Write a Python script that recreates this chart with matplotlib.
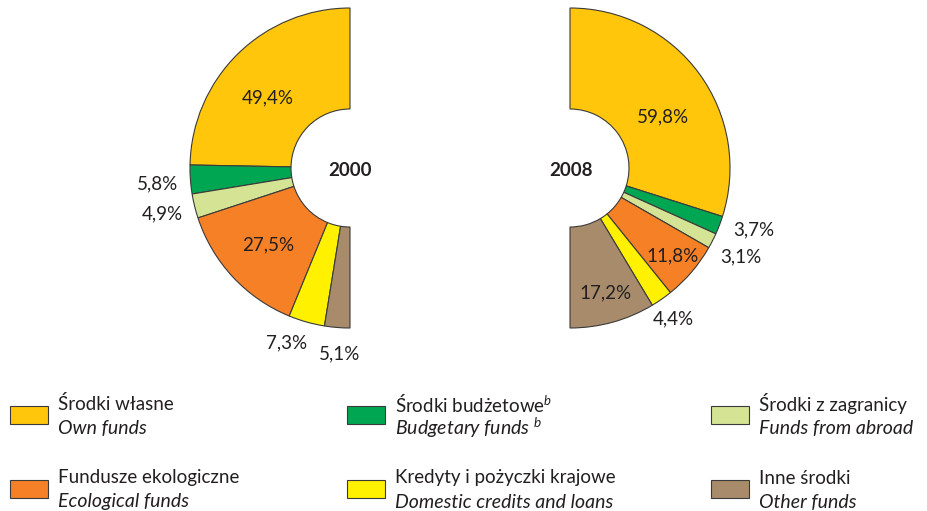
import numpy as np
import matplotlib
matplotlib.use("Agg")
import matplotlib.pyplot as plt
from matplotlib.patches import Rectangle

plt.rcParams["font.family"] = ["Lato", "DejaVu Sans"]
plt.rcParams["mathtext.fontset"] = "custom"
plt.rcParams["mathtext.rm"] = "Lato"
plt.rcParams["mathtext.it"] = "Lato:italic"

categories_pl = ["Środki własne", "Środki budżetowe$^{b}$", "Środki z zagranicy",
                 "Fundusze ekologiczne", "Kredyty i pożyczki krajowe", "Inne środki"]
categories_en = ["Own funds", "Budgetary funds $^{b}$", "Funds from abroad",
                 "Ecological funds", "Domestic credits and loans", "Other funds"]
colors = ["#FFC60B", "#00A651", "#D5E394", "#F58025", "#FFF100", "#A78B6B"]

years = ["2000", "2008"]
shares_2000 = [49.4, 5.8, 4.9, 27.5, 7.3, 5.1]
shares_2008 = [59.8, 3.7, 3.1, 11.8, 4.4, 17.2]

W, H = 928, 511
txt = "#231F20"
edge = "#3A3A3A"

fig = plt.figure(figsize=(W / 100, H / 100), dpi=100)
ax = fig.add_axes([0, 0, 1, 1])

R, R_IN = 160, 59


def Y(y):
    return H - y


def half_donut(values, cx, cy, ccw, label_r, nudge):
    vals = list(values) + [sum(values)]
    wedges, _ = ax.pie(vals, colors=colors + ["none"], startangle=90,
                       counterclock=ccw, radius=R, center=(cx, Y(cy)),
                       wedgeprops=dict(width=R - R_IN, edgecolor=edge, linewidth=0.8))
    wedges[-1].set_edgecolor("none")
    sign = 1 if ccw else -1
    cum = 0
    for i, v in enumerate(values):
        mid = np.deg2rad(90 + sign * (cum + v / 2) * 1.8)
        cum += v
        x = cx + label_r[i] * np.cos(mid) + nudge[i][0]
        y = Y(cy) + label_r[i] * np.sin(mid) - nudge[i][1]
        ax.text(x, y, f"{v:.1f}%".replace(".", ","), ha="center", va="center",
                fontsize=13.5, color=txt)


half_donut(shares_2000, 350, 168, True,
           [110, 193, 193, 112, 182, 185],
           [(-5, 8), (0, 2), (0, 0), (0, 1), (-14, 0), (4, 1)])
half_donut(shares_2008, 570, 168, False,
           [107, 190, 192, 150, 182, 127],
           [(7, 12), (6, -6), (0, 1), (-11, -10), (-1, 2), (2, 2)])

ax.text(350, Y(170), years[0], ha="center", va="center", fontsize=13.5,
        fontweight="bold", color=txt)
ax.text(571, Y(170), years[1], ha="center", va="center", fontsize=13.5,
        fontweight="bold", color=txt)

# legend, 3 columns x 2 rows
col_x = [10, 347, 711]
row_y = [415, 489]
order = [[0, 3], [1, 4], [2, 5]]
for c, x0 in enumerate(col_x):
    for r, y0 in enumerate(row_y):
        i = order[c][r]
        ax.add_patch(Rectangle((x0, Y(y0 + 9)), 38, 18, facecolor=colors[i],
                               edgecolor=edge, linewidth=0.8))
        ax.text(x0 + 48, Y(y0 - 11), categories_pl[i], ha="left", va="center",
                fontsize=13.5, color=txt)
        ax.text(x0 + 48, Y(y0 + 13), categories_en[i], ha="left", va="center",
                fontsize=14, color=txt, style="italic")

ax.set_xlim(0, W)
ax.set_ylim(0, H)
ax.set_aspect("equal")
ax.axis("off")

fig.savefig("out.png", dpi=100, facecolor="white")
